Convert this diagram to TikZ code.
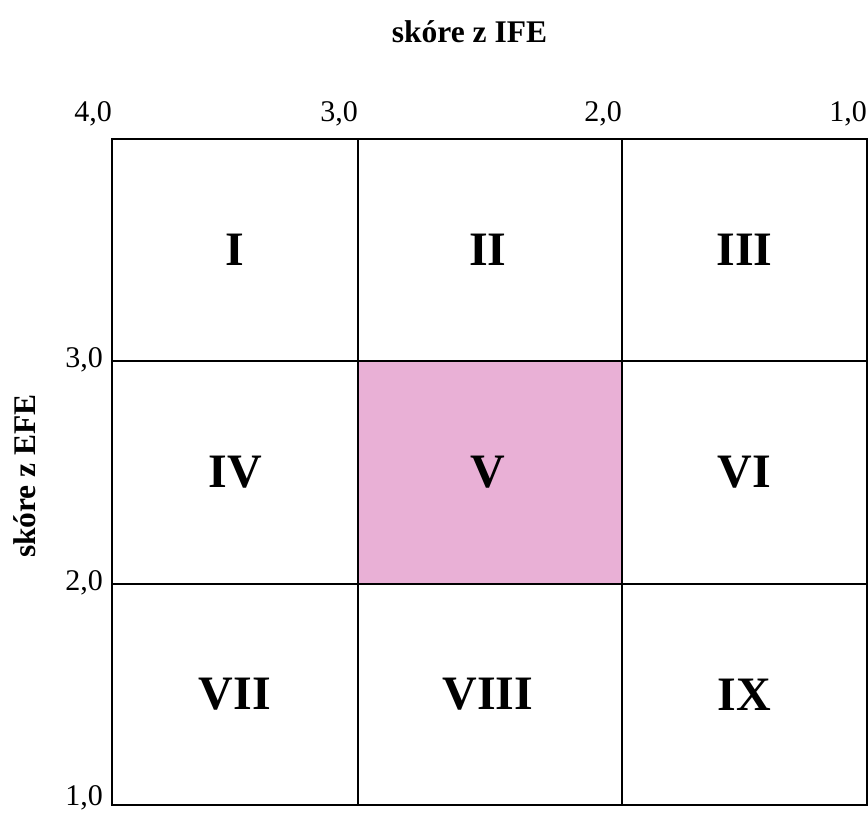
\documentclass[tikz,border=0pt]{standalone}
\usepackage{fontspec}
\setmainfont{Liberation Serif}
\usetikzlibrary{positioning}
\definecolor{cellpink}{RGB}{233,176,214}

\begin{document}
\begin{tikzpicture}[x=1pt,y=-1pt,
		gridline/.style={line width=1.6pt},
		cell/.style={font=\fontsize{48}{48}\selectfont\bfseries},
		tick/.style={font=\fontsize{30}{30}\selectfont,inner sep=0pt,anchor=base east},
		axislabel/.style={font=\fontsize{31.5}{31.5}\selectfont\bfseries,inner sep=0pt,anchor=base}]
			\useasboundingbox (0,0) rectangle (868,812);
			% highlighted cell
			\fill[cellpink] (358,361) rectangle (622,584);
			% grid
			\draw[gridline] (112,139) rectangle (867,805);
			\foreach \x in {358,622}
				\draw[gridline] (\x,139) -- (\x,805);
			\foreach \y in {361,584}
				\draw[gridline] (112,\y) -- (867,\y);
			% scale values
			\foreach \x/\v [count=\i] in {112/{4,0},358/{3,0},622/{2,0},867/{1,0}}
				\node[tick] (top\i) at (\x,121) {\v};
			\foreach \y/\v [count=\i] in {367/{3,0},590/{2,0},805/{1,0}}
				\node[tick] (left\i) at (103,\y) {\v};
			% axis titles
			\node[axislabel] (ife) at (469.5,42) {skóre z IFE};
			\node[axislabel,rotate=90] (efe) at (35,476) {skóre z EFE};
			% fields
			\foreach \y/\a/\b/\c [count=\r] in {250/I/II/III,472.5/IV/V/VI,694.5/VII/VIII/IX}{
				\node[cell] (c\r a) at (235,\y) {\a};
				\node[cell] (c\r b) at (488,\y) {\b};
				\node[cell] (c\r c) at (744.5,\y) {\c};
			}
		\end{tikzpicture}
\end{document}
